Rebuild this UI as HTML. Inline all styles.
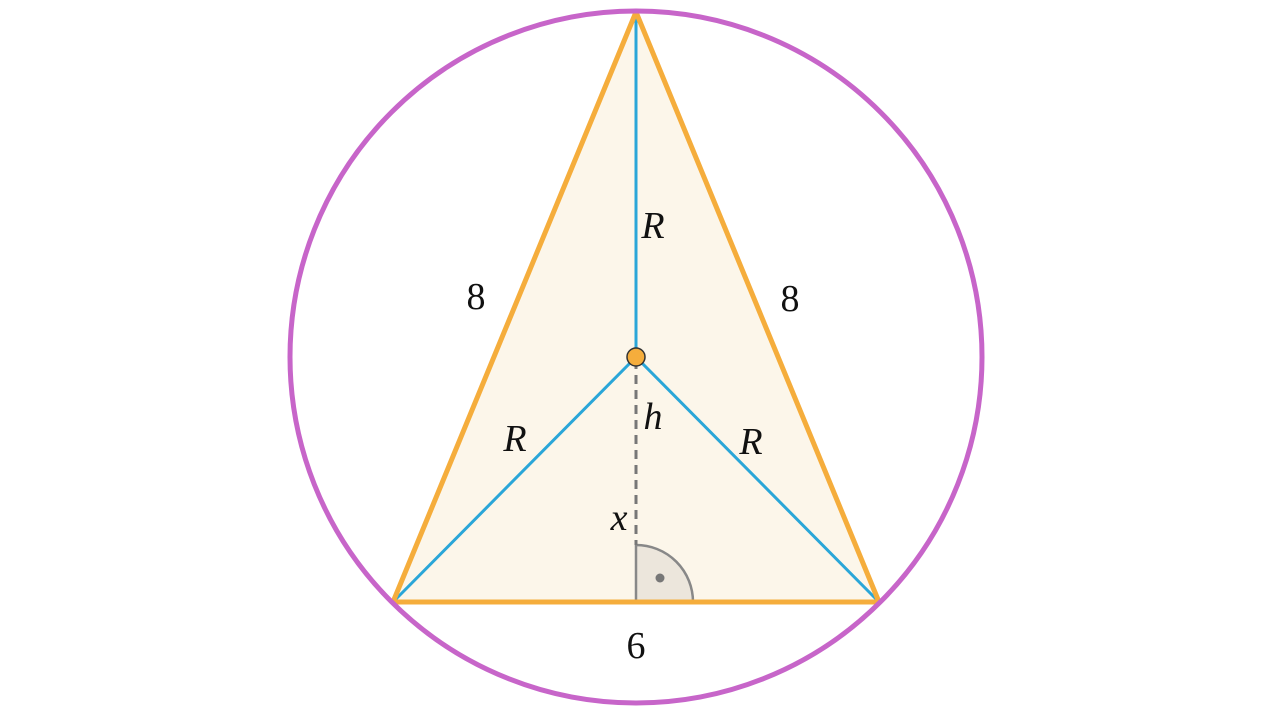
<!DOCTYPE html>
<html><head><meta charset="utf-8"><style>
html,body{margin:0;padding:0;background:#fff;}
svg{display:block;}
text{font-family:"Liberation Serif",serif;font-size:38px;fill:#111;}
.i{font-style:italic;}
</style></head><body>
<svg width="1280" height="714" viewBox="0 0 1280 714">
<polygon points="636,12 393,602 879,602" fill="#fcf6ea" stroke="none"/>
<path d="M636,602 L636,545 A57,57 0 0 1 693,602 Z" fill="#ece6dc" stroke="#888" stroke-width="2.5"/>
<circle cx="660" cy="578" r="4.5" fill="#777"/>
<line x1="636" y1="360" x2="636" y2="545" stroke="#777" stroke-width="3" stroke-dasharray="9,6"/>
<line x1="636" y1="12" x2="636" y2="357" stroke="#2aa6d8" stroke-width="3"/>
<line x1="636" y1="357" x2="393" y2="602" stroke="#2aa6d8" stroke-width="3"/>
<line x1="636" y1="357" x2="879" y2="602" stroke="#2aa6d8" stroke-width="3"/>
<polygon points="636,12 393,602 879,602" fill="none" stroke="#f5ad3c" stroke-width="5" stroke-linejoin="round"/>
<circle cx="636" cy="357" r="346" fill="none" stroke="#c765c9" stroke-width="5"/>
<circle cx="636" cy="357" r="9" fill="#f5ad3c" stroke="#333" stroke-width="1.5"/>
<text x="476" y="309" text-anchor="middle">8</text>
<text x="790" y="311" text-anchor="middle">8</text>
<text x="653" y="238" text-anchor="middle" class="i">R</text>
<text x="515" y="451" text-anchor="middle" class="i">R</text>
<text x="751" y="454" text-anchor="middle" class="i">R</text>
<text x="653" y="429" text-anchor="middle" class="i">h</text>
<text x="619" y="530" text-anchor="middle" class="i">x</text>
<text x="636" y="658" text-anchor="middle">6</text>
</svg>
</body></html>
